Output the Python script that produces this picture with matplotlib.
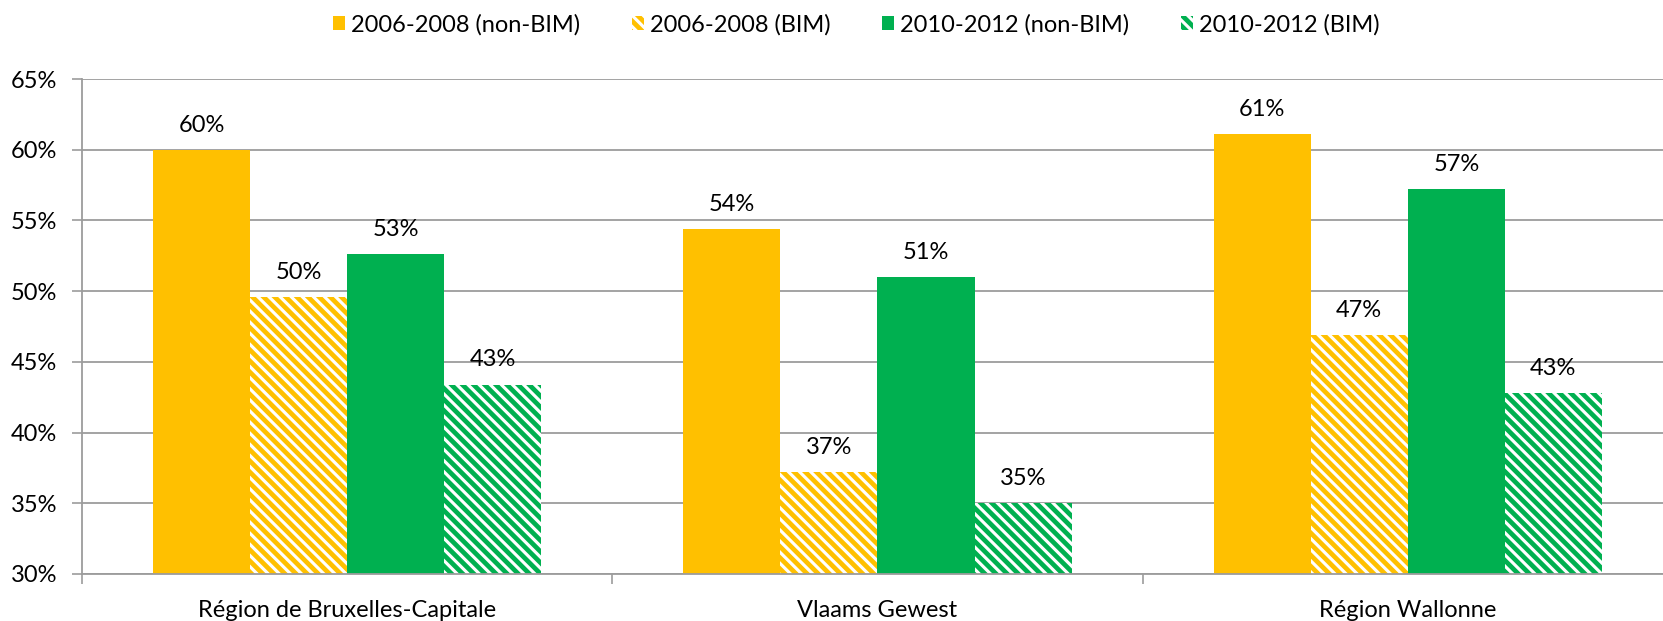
import matplotlib.pyplot as plt
import numpy as np

# data (percent)
regions = ["Région de Bruxelles-Capitale", "Vlaams Gewest", "Région Wallonne"]
series = ["2006-2008 (non-BIM)", "2006-2008 (BIM)", "2010-2012 (non-BIM)", "2010-2012 (BIM)"]
nonbim_0608 = [60.0, 54.4, 61.1]
bim_0608 = [49.6, 37.2, 46.9]
nonbim_1012 = [52.6, 51.0, 57.2]
bim_1012 = [43.4, 35.0, 42.8]
yticks = [30, 35, 40, 45, 50, 55, 60, 65]

values = [nonbim_0608, bim_0608, nonbim_1012, bim_1012]
colors = ["#FFC000", "#FFC000", "#00B050", "#00B050"]
hatches = [None, "\\\\\\", None, "\\\\\\"]

plt.rcParams['font.family'] = ['Lato', 'DejaVu Sans']
plt.rcParams['hatch.linewidth'] = 3.4
fs = 17
grid_col = "#9c9c9c"

fig = plt.figure(figsize=(16.63, 6.21), dpi=100)
ax = fig.add_axes([0.0493, 0.0757, 0.9567, 0.797])

x = np.arange(len(regions))
w = 0.183
for i, vals in enumerate(values):
    pos = x + (i - 1.5) * w
    if hatches[i]:
        ax.bar(pos, np.array(vals) - 30, w, bottom=30, facecolor="white",
               edgecolor=colors[i], hatch=hatches[i], linewidth=0,
               label=series[i], zorder=2)
    else:
        ax.bar(pos, np.array(vals) - 30, w, bottom=30, color=colors[i],
               linewidth=0, label=series[i], zorder=2)
    for p, v in zip(pos, vals):
        ax.annotate(f"{v:.0f}%", (p, v), xytext=(0, 13), textcoords="offset points",
                    ha="center", va="baseline", fontsize=fs, color="black")

ax.set_ylim(30, 65)
ax.set_xlim(-0.5, 2.5)
ax.set_yticks(yticks)
ax.set_yticklabels([f"{t}%" for t in yticks], fontsize=fs)
ax.set_xticks(x)
ax.set_xticklabels(regions, fontsize=fs)
ax.set_xticks([-0.5, 0.5, 1.5, 2.5], minor=True)
ax.tick_params(axis="x", which="major", length=0, pad=19)
ax.tick_params(axis="x", which="minor", length=7, width=1.2, color=grid_col, direction="out")
ax.tick_params(axis="y", length=7, width=1.2, color=grid_col, pad=11)

ax.yaxis.grid(True, color=grid_col, linewidth=1.3)
ax.set_axisbelow(True)
for s in ["top", "right"]:
    ax.spines[s].set_visible(False)
for s in ["left", "bottom"]:
    ax.spines[s].set_color(grid_col)
    ax.spines[s].set_linewidth(1.3)

fig.legend(loc="center", bbox_to_anchor=(0.515, 0.96), ncol=4, frameon=False,
           fontsize=fs, handlelength=0.5, handleheight=0.5, handletextpad=0.25,
           columnspacing=2.2)

fig.savefig("out.png", dpi=100)
